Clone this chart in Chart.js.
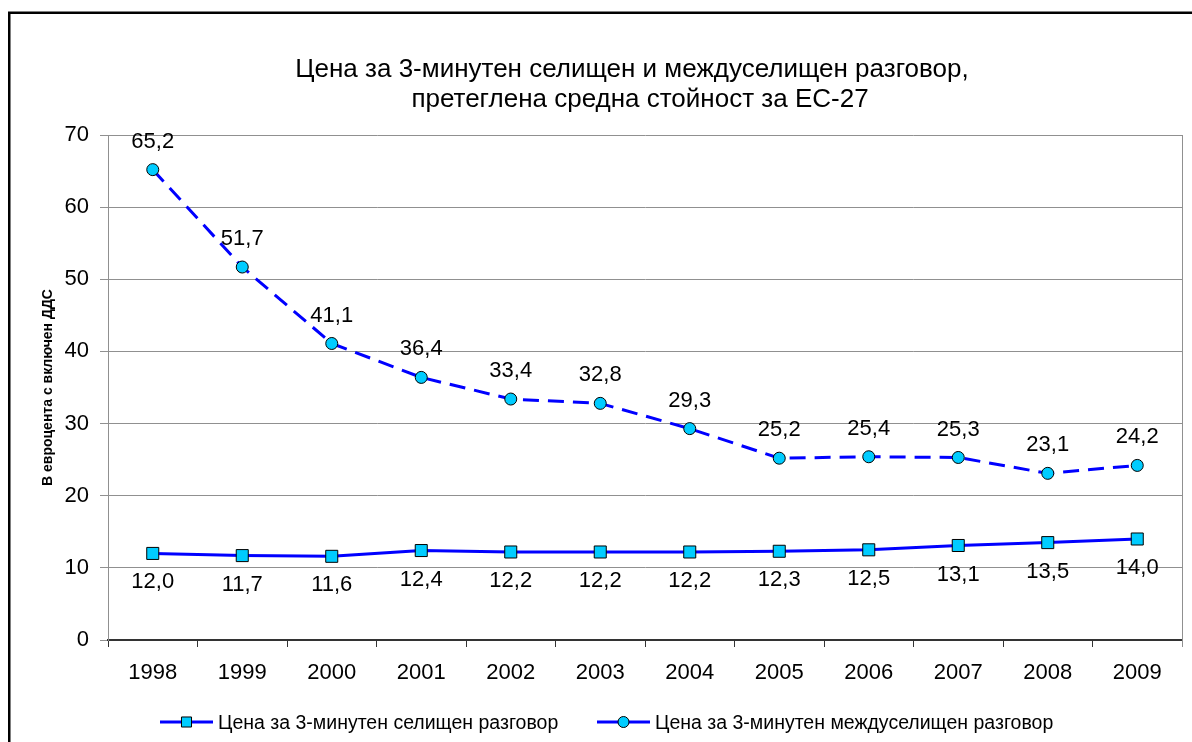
<!DOCTYPE html>
<html lang="bg">
<head>
<meta charset="utf-8">
<title>Цена за 3-минутен разговор</title>
<script src="https://cdn.jsdelivr.net/npm/chart.js@4.4.1/dist/chart.umd.min.js"></script>
<style>
  html, body { margin: 0; padding: 0; background: #ffffff; }
  #chartBox { width: 1192px; height: 742px; }
</style>
</head>
<body>
<div id="chartBox"><canvas id="priceChart" width="1192" height="742"></canvas></div>
<script>
// data
const years = ['1998', '1999', '2000', '2001', '2002', '2003', '2004', '2005', '2006', '2007', '2008', '2009'];
const localCall = [12.0, 11.7, 11.6, 12.4, 12.2, 12.2, 12.2, 12.3, 12.5, 13.1, 13.5, 14.0];
const longDistanceCall = [65.2, 51.7, 41.1, 36.4, 33.4, 32.8, 29.3, 25.2, 25.4, 25.3, 23.1, 24.2];
const seriesNames = ['Цена за 3-минутен селищен разговор', 'Цена за 3-минутен междуселищен разговор'];
const titleLines = ['Цена за 3-минутен селищен и междуселищен разговор,', 'претеглена средна стойност за ЕС-27'];
const yAxisTitle = 'В евроцента с включен ДДС';
const yMin = 0;
const yMax = 70;
const yStep = 10;

const FONT = '"Liberation Sans", Arial, sans-serif';
const LINE_BLUE = '#0000ff';
const MARKER_FILL = '#00ccff';

document.addEventListener('DOMContentLoaded', function() {
    drawPriceChart();
});

function formatValue(v) {
    return v.toFixed(1).replace('.', ',');
}

// labels above / below each point, Excel style
const valueLabels = {
    id: 'valueLabels',
    afterDatasetsDraw(chart) {
        const c = chart.ctx;
        c.save();
        c.font = '22px ' + FONT;
        c.fillStyle = '#000';
        c.textAlign = 'center';
        c.textBaseline = 'middle';
        chart.data.datasets.forEach((ds, i) => {
            chart.getDatasetMeta(i).data.forEach((pt, j) => {
                c.fillText(formatValue(ds.data[j]), pt.x, pt.y + ds.labelOffset);
            });
        });
        c.restore();
    }
};

function drawLegendItem(c, lineStart, y, ds, text) {
    c.strokeStyle = LINE_BLUE;
    c.lineWidth = 3;
    c.setLineDash([]);
    c.beginPath();
    c.moveTo(lineStart, y);
    c.lineTo(lineStart + 53, y);
    c.stroke();

    c.fillStyle = MARKER_FILL;
    c.strokeStyle = '#000';
    c.lineWidth = 1;
    Chart.helpers.drawPoint(c, {
        pointStyle: ds.pointStyle,
        radius: ds.pointStyle === 'rect' ? 7.1 : 5.5,
        borderWidth: 1
    }, lineStart + 26.5, y);

    c.fillStyle = '#000';
    c.font = '19.5px ' + FONT;
    c.textAlign = 'left';
    c.textBaseline = 'alphabetic';
    c.fillText(text, lineStart + 58, y + 6.5);
}

const chartDecor = {
    id: 'chartDecor',
    beforeDraw(chart) {
        const c = chart.ctx;
        c.save();
        c.fillStyle = '#ffffff';
        c.fillRect(0, 0, chart.width, chart.height);
        c.restore();
    },
    beforeDatasetsDraw(chart) {
        // right edge of the plot area
        const {top, bottom, right} = chart.chartArea;
        const c = chart.ctx;
        c.save();
        c.strokeStyle = '#909090';
        c.lineWidth = 1;
        c.beginPath();
        c.moveTo(right + 0.5, top);
        c.lineTo(right + 0.5, bottom + 7);
        c.stroke();
        c.restore();
    },
    afterDraw(chart) {
        const c = chart.ctx;
        c.save();

        // outer frame (runs off the right and bottom edges)
        c.strokeStyle = '#000';
        c.lineWidth = 2.5;
        c.strokeRect(9.25, 12.75, chart.width + 20, chart.height + 20);

        // title
        c.fillStyle = '#000';
        c.font = '26px ' + FONT;
        c.textAlign = 'center';
        c.textBaseline = 'alphabetic';
        c.fillText(titleLines[0], 632, 77);
        c.fillText(titleLines[1], 640, 107);

        // legend
        const sets = chart.data.datasets;
        drawLegendItem(c, 160, 722, sets[0], seriesNames[0]);
        drawLegendItem(c, 597, 722, sets[1], seriesNames[1]);

        c.restore();
    }
};

function drawPriceChart() {
    const ctx = document.getElementById('priceChart').getContext('2d');
    const priceChart = new Chart(ctx, {
        type: 'line',
        data: {
            labels: years,
            datasets: [{
                label: seriesNames[0],
                data: localCall,
                borderColor: LINE_BLUE,
                borderWidth: 3,
                backgroundColor: MARKER_FILL,
                pointStyle: 'rect',
                pointRadius: 8.5,
                pointBackgroundColor: MARKER_FILL,
                pointBorderColor: '#000',
                pointBorderWidth: 1,
                tension: 0,
                labelOffset: 29
            }, {
                label: seriesNames[1],
                data: longDistanceCall,
                borderColor: LINE_BLUE,
                borderWidth: 3,
                borderDash: [16, 9],
                backgroundColor: MARKER_FILL,
                pointStyle: 'circle',
                pointRadius: 6,
                pointBackgroundColor: MARKER_FILL,
                pointBorderColor: '#000',
                pointBorderWidth: 1,
                tension: 0,
                labelOffset: -28
            }]
        },
        options: {
            responsive: false,
            animation: false,
            devicePixelRatio: 1,
            layout: {
                padding: { top: 135, left: 10, right: 10, bottom: 42 }
            },
            plugins: {
                legend: { display: false },
                title: { display: false },
                tooltip: { enabled: false }
            },
            scales: {
                x: {
                    offset: true,
                    grid: {
                        offset: true,
                        drawOnChartArea: false,
                        drawTicks: true,
                        tickLength: 7,
                        color: '#333333'
                    },
                    border: { color: '#333333', width: 2 },
                    ticks: {
                        color: '#000',
                        font: { family: FONT, size: 22 },
                        padding: 13,
                        maxRotation: 0
                    },
                    afterFit(scale) { scale.height = 60; }
                },
                y: {
                    min: yMin,
                    max: yMax,
                    ticks: {
                        stepSize: yStep,
                        color: '#000',
                        font: { family: FONT, size: 22 },
                        padding: 11
                    },
                    grid: { color: '#909090', tickLength: 8 },
                    border: { color: '#909090' },
                    title: {
                        display: true,
                        text: yAxisTitle,
                        color: '#000',
                        font: { family: FONT, size: 14, weight: 'bold' },
                        padding: { top: 30, bottom: 0 }
                    },
                    afterFit(scale) { scale.width = 98; }
                }
            }
        },
        plugins: [valueLabels, chartDecor]
    });
}
</script>
</body>
</html>
